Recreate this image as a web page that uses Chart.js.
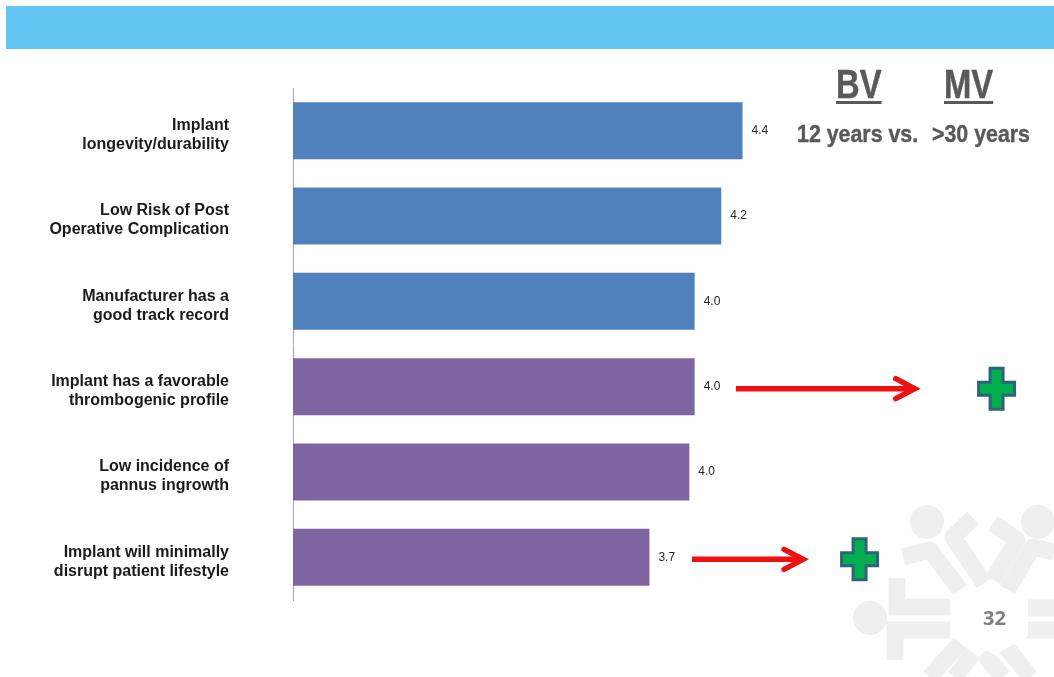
<!DOCTYPE html>
<html>
<head>
<meta charset="utf-8">
<script src="https://cdn.jsdelivr.net/npm/chart.js@4"></script>
<style>
  html, body { margin: 0; padding: 0; background: #fff; }
  #slide { position: relative; width: 1054px; height: 677px; overflow: hidden; background: #fefefe; }
  #band { position: absolute; left: 6px; top: 6px; right: 0; height: 43px; background: #63c6f2; }
  #mark { position: absolute; left: 0; top: 0; }
  canvas { position: absolute; left: 0; top: 0; }
  .note { position: absolute; white-space: nowrap; color: #595959; font-family: "Liberation Sans", sans-serif; font-weight: bold; line-height: 1; transform-origin: left top; -webkit-text-stroke: 0.4px #595959; }
  .head { font-size: 40px; text-decoration: underline; text-decoration-thickness: 3px; text-underline-offset: 3px; transform: scaleX(0.82); }
  .sub { font-size: 24px; transform: scaleX(0.89); }
  #page { position: absolute; left: 983px; top: 606px; color: #7f7f7f; font: bold 20px "Open Sans", sans-serif; line-height: 1.2; }
</style>
</head>
<body>
<div id="slide">
  <div id="band"></div>
  <svg id="mark" width="1054" height="677" fill="none" stroke="#efefef" stroke-width="17">
    <g fill="#efefef" stroke="none">
      <circle cx="927" cy="522" r="17"/>
      <circle cx="1038" cy="522" r="17"/>
      <circle cx="870" cy="618" r="17"/>
    </g>
    <polyline points="897,578 897,607 950,607"/>
    <polyline points="950,630 895,630 895,660"/>
    <polyline points="1017,608 1054,608"/>
    <polyline points="1017,630 1054,630"/>
    <polyline points="903,557 930,550 960,590" stroke-linejoin="round"/>
    <polyline points="973,518 953,537 984,583" stroke-linejoin="round"/>
    <polyline points="993,523 1017,540 993,580" stroke-linejoin="round"/>
    <polyline points="1054,552 1033,547 1007,590" stroke-linejoin="round"/>
    <polyline points="960,643 930,677"/>
    <polyline points="973,653 955,677"/>
    <polyline points="983,653 1003,677"/>
    <polyline points="1003,643 1030,677"/>
    <polygon points="995,583 1028,600 1028,636 995,655 962,636 962,600" fill="#fefefe" stroke="none"/>
  </svg>
  <canvas id="chart" width="1054" height="677"></canvas>
  <div class="note head" style="left:836px;top:64px">BV</div>
  <div class="note head" style="left:944px;top:64px">MV</div>
  <div class="note sub" style="left:797px;top:122px">12 years vs.</div>
  <div class="note sub" style="left:932px;top:122px">&gt;30 years</div>
  <div id="page">32</div>
</div>
<script>
const categories = [
  ['Implant', 'longevity/durability'],
  ['Low Risk of Post', 'Operative Complication'],
  ['Manufacturer has a', 'good track record'],
  ['Implant has a favorable', 'thrombogenic profile'],
  ['Low incidence of', 'pannus ingrowth'],
  ['Implant will minimally', 'disrupt patient lifestyle']
];
const scores = [4.38, 4.22, 4.02, 4.02, 3.98, 3.68];
const scoreLabels = ['4.4', '4.2', '4.0', '4.0', '4.0', '3.7'];
const barColors = ['#4f81bd', '#4f81bd', '#4f81bd', '#8064a2', '#8064a2', '#8064a2'];

// arrows point from the score label to the plus, given in axis units
const arrowRows = [3, 5];
const arrowFrom = [4.33, 4.0];
const arrowTo = [5.69, 4.85];
const plusAt = [6.29, 5.26];

const drawArrow = (ctx, x1, x2, y) => {
  ctx.strokeStyle = '#ee1111';
  ctx.lineWidth = 5.5;
  ctx.beginPath();
  ctx.moveTo(x1, y);
  ctx.lineTo(x2 - 2, y);
  ctx.stroke();
  ctx.lineCap = 'round';
  ctx.beginPath();
  ctx.moveTo(x2 - 21, y - 10);
  ctx.lineTo(x2 - 2, y);
  ctx.lineTo(x2 - 21, y + 10);
  ctx.stroke();
  ctx.lineCap = 'butt';
};

const drawPlus = (ctx, x, y) => {
  const w = 6.5, hx = 18, hy = 20.5;
  ctx.fillStyle = '#00b050';
  ctx.strokeStyle = '#2f6378';
  ctx.lineWidth = 3;
  ctx.beginPath();
  ctx.moveTo(x - w, y - hy);
  ctx.lineTo(x + w, y - hy);
  ctx.lineTo(x + w, y - w);
  ctx.lineTo(x + hx, y - w);
  ctx.lineTo(x + hx, y + w);
  ctx.lineTo(x + w, y + w);
  ctx.lineTo(x + w, y + hy);
  ctx.lineTo(x - w, y + hy);
  ctx.lineTo(x - w, y + w);
  ctx.lineTo(x - hx, y + w);
  ctx.lineTo(x - hx, y - w);
  ctx.lineTo(x - w, y - w);
  ctx.closePath();
  ctx.fill();
  ctx.stroke();
};

const extras = {
  id: 'extras',
  afterDatasetsDraw(chart) {
    const { ctx, scales } = chart;
    const bars = chart.getDatasetMeta(0).data;
    ctx.save();
    ctx.fillStyle = '#262626';
    ctx.font = '12px "Liberation Sans"';
    ctx.textAlign = 'left';
    ctx.textBaseline = 'middle';
    bars.forEach((bar, i) => ctx.fillText(scoreLabels[i], bar.x + 9, bar.y));
    arrowRows.forEach((row, i) => {
      const y = bars[row].y + 2;
      drawArrow(ctx, scales.x.getPixelForValue(arrowFrom[i]), scales.x.getPixelForValue(arrowTo[i]), y);
      drawPlus(ctx, scales.x.getPixelForValue(plusAt[i]), y);
    });
    ctx.restore();
  }
};

new Chart(document.getElementById('chart'), {
  type: 'bar',
  data: {
    labels: categories,
    datasets: [{
      data: scores,
      backgroundColor: barColors,
      categoryPercentage: 1,
      barPercentage: 0.667
    }]
  },
  options: {
    indexAxis: 'y',
    responsive: false,
    animation: false,
    layout: { padding: { top: 88, bottom: 77, right: 229 } },
    plugins: { legend: { display: false }, tooltip: { enabled: false } },
    scales: {
      x: { display: false, min: 1, max: 5 },
      y: {
        afterFit: (scale) => {
          scale.width = 293;
          // tick padding otherwise leaks into the vertical room of the plot
          scale.paddingTop = 0;
          scale.paddingBottom = 0;
        },
        grid: { display: false, drawTicks: false },
        border: { color: '#a6a6a6', width: 1 },
        ticks: {
          padding: 64,
          labelOffset: 4.5,
          color: '#1a1a1a',
          font: { family: '"Liberation Sans"', size: 16, weight: 'bold', lineHeight: 1.19 }
        }
      }
    }
  },
  plugins: [extras]
});
</script>
</body>
</html>
